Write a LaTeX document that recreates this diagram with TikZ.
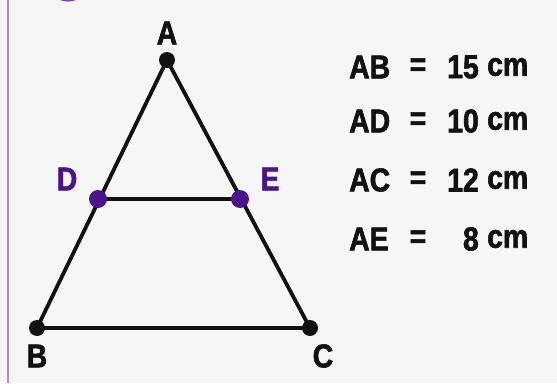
\documentclass[tikz,border=0pt]{standalone}
\usepackage{fontspec}
\setmainfont{Liberation Sans}
\newfontfamily\condfont[FakeStretch=0.86,FakeBold=1.8]{Liberation Sans}
\definecolor{bgc}{HTML}{F6F6F7}
\definecolor{pline}{HTML}{A98BE0}
\definecolor{pdot}{HTML}{4A148C}
\definecolor{ink}{HTML}{111111}
\begin{document}
\begin{tikzpicture}[x=1pt,y=-1pt,
  edge/.style={draw=ink,line width=3.8pt},
  vdot/.style={circle,fill=ink,inner sep=0pt,minimum size=16pt},
  mdot/.style={circle,fill=pdot,inner sep=0pt,minimum size=18pt},
  lab/.style={font=\condfont\bfseries\fontsize{33}{33}\selectfont,text=ink,inner sep=0pt},
  mlab/.style={lab,text=pdot},
  eq/.style={font=\condfont\bfseries\fontsize{33}{33}\selectfont,text=ink,inner sep=0pt}]
\useasboundingbox (0,0) rectangle (557,383);
\fill[bgc] (0,0) rectangle (557,383);
\begin{scope}
\clip (0,0) rectangle (557,383);
\draw[pline,line width=2pt] (8,0) -- (8,383);
\draw[pdot!60!pline,line width=3pt] (68,-22) circle (22);
\end{scope}
% points
\coordinate (A) at (167,60);
\coordinate (B) at (37,328);
\coordinate (C) at (310,328);
\coordinate (D) at (98,199);
\coordinate (E) at (240,199);
\draw[edge,line join=round] (A) -- (B) -- (C) -- cycle;
\draw[edge] (D) -- (E);
\node[vdot] (nA) at (A) {};
\node[vdot] (nB) at (B) {};
\node[vdot] (nC) at (C) {};
\node[mdot] (nD) at (D) {};
\node[mdot] (nE) at (E) {};
\node[lab] (lA) at (167,33) {A};
\node[lab] (lB) at (37,356) {B};
\node[lab] (lC) at (323,356) {C};
\node[mlab] (lD) at (67,179) {D};
\node[mlab] (lE) at (270,179) {E};
% measurements
\foreach \n/\s/\v/\y in {1/AB/15/67, 2/AD/10/121, 3/AC/12/180, 4/AE/8/239}{
  \node[eq,anchor=west] (s\n) at (349,\y) {\s};
  \node[eq] (e\n) at (418,\y) {=};
  \node[eq,anchor=east] (v\n) at (479,\y) {\v};
  \node[eq,anchor=west] (c\n) at (487,\y) {cm};
}
\end{tikzpicture}
\end{document}
